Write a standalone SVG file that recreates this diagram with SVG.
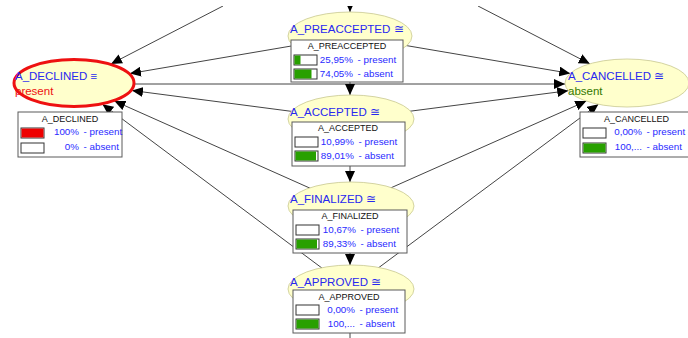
<svg xmlns="http://www.w3.org/2000/svg" width="688" height="338" viewBox="0 0 688 338">
<style>
.ell{fill:#ffffcc;stroke:#c8c890;stroke-width:0.8}
.lbl{font-family:"Liberation Sans",Arial,sans-serif;font-size:11.5px;fill:#2828f0}
.ev{font-family:"Liberation Sans",Arial,sans-serif;font-size:11.5px}
.tbl{fill:#ffffff;stroke:#5a5a5a;stroke-width:1}
.ttl{font-family:"Liberation Sans",Arial,sans-serif;font-size:9px;fill:#111;text-anchor:middle}
.val{font-family:"Liberation Sans",Arial,sans-serif;font-size:9.8px;fill:#2a2aff}
.pc{text-anchor:end}
.bar{fill:#ffffff;stroke:#333;stroke-width:1}
.gr{fill:#28a000}
.rd{fill:#ee0000}
.edge{stroke:#444;stroke-width:1;fill:none;marker-end:url(#arr)}
.line{stroke:#444;stroke-width:1;fill:none}
</style>
<defs>
<marker id="arr" markerUnits="userSpaceOnUse" markerWidth="11" markerHeight="10" refX="11" refY="5" orient="auto">
<path d="M0,0 L11,5 L0,10 z" fill="#000"/>
</marker>
<clipPath id="clipTop"><rect x="0" y="6" width="688" height="332"/></clipPath>
</defs>

<g id="connectors" clip-path="url(#clipTop)">
<line class="edge" x1="223" y1="6" x2="111" y2="63.9"/>
<line class="edge" x1="478" y1="6" x2="589.8" y2="63.8"/>
<line class="edge" x1="350" y1="-10" x2="350" y2="12"/>
<line class="edge" x1="350" y1="36" x2="130" y2="73.5"/>
<line class="edge" x1="350" y1="36" x2="570.2" y2="73.4"/>
<line class="edge" x1="135" y1="84" x2="565" y2="84"/>
<line class="edge" x1="350" y1="119" x2="132" y2="90.5"/>
<line class="edge" x1="350" y1="119" x2="568.2" y2="90.7"/>
<line class="edge" x1="350" y1="206" x2="114.4" y2="101"/>
<line class="edge" x1="350" y1="206" x2="586.3" y2="101.1"/>
<line class="edge" x1="350" y1="289" x2="102.4" y2="104.2"/>
<line class="edge" x1="350" y1="289" x2="598.4" y2="104.3"/>
<line class="edge" x1="350" y1="36" x2="350" y2="95"/>
<line class="edge" x1="350" y1="119" x2="350" y2="182"/>
<line class="edge" x1="350" y1="206" x2="350" y2="265"/>
<line class="line" x1="350" y1="289" x2="350" y2="345"/>
</g>

<g id="node-declined">
<ellipse cx="74" cy="83" rx="60" ry="23.5" fill="#ffffcc" stroke="#ee1111" stroke-width="3"/>
<text class="lbl" x="15" y="80">A_DECLINED ≡</text>
<text class="ev" x="15" y="95" fill="#ee1111">present</text>
<rect class="tbl" x="18" y="112" width="104" height="45"/>
<text class="ttl" x="70" y="122">A_DECLINED</text>
<rect class="bar" x="21" y="128" width="23" height="10"/>
<rect class="rd" x="21.5" y="128.5" width="22" height="9"/>
<text class="val pc" x="79" y="135">100%</text>
<text class="val" x="83.5" y="135">- present</text>
<rect class="bar" x="21" y="143" width="23" height="10"/>
<text class="val pc" x="79" y="150">0%</text>
<text class="val" x="83.5" y="150">- absent</text>
</g>

<g id="node-cancelled">
<ellipse class="ell" cx="627" cy="83" rx="62" ry="24"/>
<text class="lbl" x="568" y="80">A_CANCELLED ≅</text>
<text class="ev" x="568" y="95" fill="#337700">absent</text>
<rect class="tbl" x="580" y="112" width="113" height="45"/>
<text class="ttl" x="636.5" y="122">A_CANCELLED</text>
<rect class="bar" x="583" y="128" width="23" height="10"/>
<text class="val pc" x="642" y="135">0,00%</text>
<text class="val" x="646.5" y="135">- present</text>
<rect class="bar" x="583" y="143" width="23" height="10"/>
<rect class="gr" x="583.5" y="143.5" width="22" height="9"/>
<text class="val pc" x="642" y="150">100,...</text>
<text class="val" x="646.5" y="150">- absent</text>
</g>

<g id="node-preaccepted">
<ellipse class="ell" cx="350" cy="36" rx="62" ry="24"/>
<text class="lbl" x="290" y="33">A_PREACCEPTED ≅</text>
<rect class="tbl" x="291" y="40" width="112" height="42"/>
<text class="ttl" x="347" y="49">A_PREACCEPTED</text>
<rect class="bar" x="294" y="55" width="23" height="10"/>
<rect class="gr" x="294.5" y="55.5" width="6" height="9"/>
<text class="val pc" x="353" y="63">25,95%</text>
<text class="val" x="357.5" y="63">- present</text>
<rect class="bar" x="294" y="69" width="23" height="10"/>
<rect class="gr" x="294.5" y="69.5" width="17" height="9"/>
<text class="val pc" x="353" y="77">74,05%</text>
<text class="val" x="357.5" y="77">- absent</text>
</g>

<g id="node-accepted">
<ellipse class="ell" cx="351" cy="119" rx="63" ry="24"/>
<text class="lbl" x="290" y="116">A_ACCEPTED ≅</text>
<rect class="tbl" x="292" y="122" width="113" height="44"/>
<text class="ttl" x="348" y="131">A_ACCEPTED</text>
<rect class="bar" x="295" y="137" width="23" height="10"/>
<text class="val pc" x="354" y="145">10,99%</text>
<text class="val" x="358.5" y="145">- present</text>
<rect class="bar" x="295" y="151" width="23" height="10"/>
<rect class="gr" x="295.5" y="151.5" width="20.5" height="9"/>
<text class="val pc" x="354" y="159">89,01%</text>
<text class="val" x="358.5" y="159">- absent</text>
</g>

<g id="node-finalized">
<ellipse class="ell" cx="351" cy="206" rx="63" ry="24"/>
<text class="lbl" x="290" y="203">A_FINALIZED ≅</text>
<rect class="tbl" x="293" y="210" width="114" height="43"/>
<text class="ttl" x="350" y="219">A_FINALIZED</text>
<rect class="bar" x="296" y="225" width="23" height="10"/>
<text class="val pc" x="356" y="233">10,67%</text>
<text class="val" x="360.5" y="233">- present</text>
<rect class="bar" x="296" y="239" width="23" height="10"/>
<rect class="gr" x="296.5" y="239.5" width="20.5" height="9"/>
<text class="val pc" x="356" y="247">89,33%</text>
<text class="val" x="360.5" y="247">- absent</text>
</g>

<g id="node-approved">
<ellipse class="ell" cx="351" cy="289" rx="63" ry="24"/>
<text class="lbl" x="290" y="286">A_APPROVED ≅</text>
<rect class="tbl" x="293" y="290" width="112" height="43"/>
<text class="ttl" x="349" y="300">A_APPROVED</text>
<rect class="bar" x="296" y="305" width="23" height="10"/>
<text class="val pc" x="355" y="313">0,00%</text>
<text class="val" x="359.5" y="313">- present</text>
<rect class="bar" x="296" y="319" width="23" height="10"/>
<rect class="gr" x="296.5" y="319.5" width="22" height="9"/>
<text class="val pc" x="355" y="327">100,...</text>
<text class="val" x="359.5" y="327">- absent</text>
</g>
</svg>
